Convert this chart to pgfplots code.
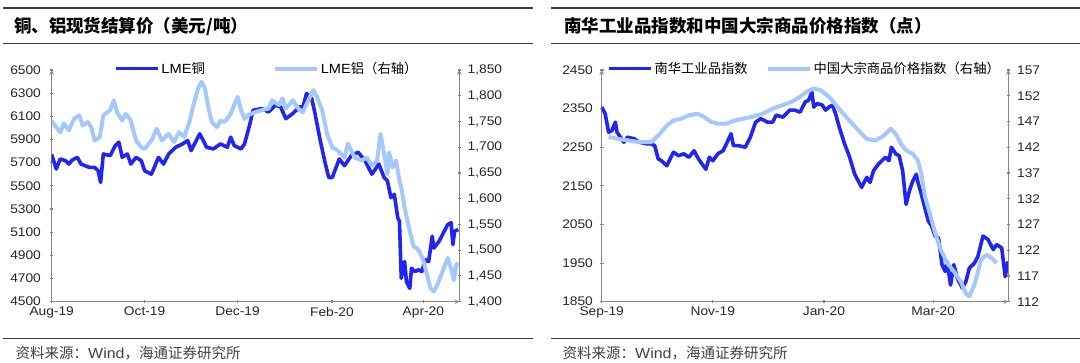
\documentclass[border=0pt]{standalone}
\usepackage{fontspec}
\setmainfont{Liberation Sans}[FakeStretch=1.1]
\newfontfamily\cjk{Noto Sans CJK SC}
\usepackage{pgfplots}
\pgfplotsset{compat=1.18}
\definecolor{dk}{RGB}{32,36,245}
\definecolor{lt}{RGB}{165,200,252}
\definecolor{axc}{RGB}{134,134,134}
\definecolor{rulec}{RGB}{60,60,60}
\pgfplotsset{
  chart/.style={scale only axis, height=231.7pt, anchor=south west,
    axis line style={axc, line width=1.1pt, -}, tick style={axc, line width=1.1pt},
    major tick length=3.6pt, tick align=outside,
    ticklabel style={font=\fontsize{12.5}{14}\selectfont, text=black!85},
    /pgf/number format/assume math mode=true, scaled ticks=false, enlargelimits=false,
    legend columns=2,
    legend image code/.code={\draw[##1] (0pt,0pt) -- (42pt,0pt);},
  },
  lg/.style={legend style={draw=none, fill=none, inner sep=0pt,
    font=\fontsize{13.3}{15}\selectfont, nodes={inner sep=2pt}}},
}
\begin{document}
\begin{tikzpicture}[x=1pt,y=1pt]
\useasboundingbox (0,0) rectangle (1080,363);
% rules
\draw[rulec, line width=1.8pt] (3,354.7) -- (533,354.7);
\draw[rulec, line width=1.5pt] (3,319.7) -- (533,319.7);
\draw[rulec, line width=1.5pt] (3,24.5) -- (533,24.5);
\draw[rulec, line width=1.8pt] (551,354.7) -- (1080,354.7);
\draw[rulec, line width=1.5pt] (551,319.7) -- (1080,319.7);
\draw[rulec, line width=1.5pt] (551,24.5) -- (1080,24.5);
% titles
\node[anchor=base west, inner sep=0pt, font=\fontsize{17.5}{20}\selectfont] at (13.8,330.5) {\cjk\bfseries 铜、铝现货结算价（美元/吨）};
\node[anchor=base west, inner sep=0pt, font=\fontsize{17.5}{20}\selectfont] at (564,330.5) {\cjk\bfseries 南华工业品指数和中国大宗商品价格指数（点）};
% sources
\node[anchor=base west, inner sep=0pt, font=\fontsize{14.5}{16}\selectfont, text=black!75] at (15.5,4) {{\cjk 资料来源：}Wind{\cjk ，海通证券研究所}};
\node[anchor=base west, inner sep=0pt, font=\fontsize{14.5}{16}\selectfont, text=black!75] at (562.5,4) {{\cjk 资料来源：}Wind{\cjk ，海通证券研究所}};

% ===== left chart =====
\begin{axis}[chart, at={(51.7pt,61.3pt)}, width=407.6pt,
  xmin=0, xmax=267.6, ymin=4500, ymax=6500,
  axis x line=bottom, axis y line=left,
  xtick={0,61,122,184,244}, xticklabels={Aug-19,Oct-19,Dec-19,Feb-20,Apr-20},
  ytick={4500,4700,...,6500}, yticklabel style={xshift=-5.5pt},
  /pgf/number format/1000 sep={}]
\addplot[dk, line width=3.6pt, line join=round] coordinates {
(0,5770)(3,5645)(5.6,5732)(9,5717)(11.3,5688)(13.5,5723)(16.9,5746)(19.2,5688)(24.8,5659)(28.2,5659)(30.5,5630)(32.1,5529)(33.9,5775)(38.4,5761)(41.8,5848)(44.1,5877)(46.3,5746)(49.7,5775)(51.9,5688)(55.4,5746)(58.8,5717)(61,5630)(65.5,5601)(70.1,5746)(73.4,5688)(76.8,5775)(81.4,5833)(85.9,5862)(89.3,5891)(91.5,5804)(97.2,5949)(101.7,5833)(106.2,5819)(110.8,5862)(115.3,5833)(117.5,5920)(119.8,5848)(124.3,5819)(126.6,5862)(129.9,6022)(132.2,6152)(137.9,6167)(142.4,6138)(146.9,6196)(150.3,6181)(153.7,6080)(158.2,6123)(162.8,6181)(165,6181)(167.3,6297)(170.7,6254)(172.9,6123)(176.3,5891)(179.7,5688)(181.9,5572)(184.2,5572)(188.8,5732)(192.2,5674)(196.7,5761)(201.2,5790)(205.7,5717)(210.2,5601)(214.8,5688)(218.2,5572)(220.4,5543)(222.7,5398)(224.9,5427)(227.2,5224)(228.3,5195)(229.5,4702)(231.7,4847)(232.9,4673)(235.1,4615)(236.2,4789)(238.5,4760)(240.8,4775)(243,4760)(245.3,4862)(247.5,4847)(249.8,5065)(250.9,4963)(254.3,5021)(257.7,5108)(260,5166)(262.2,5181)(263.4,4992)(264.5,5108)(267,5123)
};
\end{axis}
\begin{axis}[chart, lg, at={(51.7pt,61.3pt)}, width=407.6pt,
  xmin=0, xmax=267.6, ymin=1400, ymax=1850,
  axis x line=none, axis y line=right,
  ytick={1400,1450,...,1850}, yticklabel style={xshift=3pt},
  /pgf/number format/1000 sep={,},
  legend style={at={(axis description cs:0.152,1.006)}, anchor=west,
    /tikz/every even column/.append style={column sep=66pt}}]
\addlegendimage{dk, line width=3.6pt}
\addlegendentry{LME{\cjk 铜}}
\addplot[lt, line width=4pt, line join=round] coordinates {
(0,1751)(2.2,1742)(5.6,1729)(7.9,1746)(11.3,1733)(14.7,1755)(18.1,1762)(20.3,1742)(23.7,1749)(25.9,1739)(28.2,1713)(31.6,1720)(33.9,1762)(38.4,1772)(40.7,1791)(42.9,1768)(46.3,1752)(48.6,1765)(51.9,1752)(55.4,1713)(58.8,1700)(61,1697)(65.5,1713)(68.9,1736)(72.3,1713)(76.8,1726)(80.2,1710)(83.6,1729)(87,1720)(90.4,1749)(92.7,1778)(96.1,1814)(98.3,1827)(100.6,1814)(102.8,1778)(105.1,1749)(108.5,1739)(110.8,1752)(113,1749)(115.3,1755)(117.5,1765)(119.8,1782)(122.1,1798)(124.3,1772)(126.6,1755)(128.8,1762)(133.4,1768)(137.9,1772)(142.4,1775)(144.7,1791)(149.2,1782)(151.5,1795)(153.7,1775)(158.2,1791)(162.8,1772)(165,1768)(168.4,1791)(171.8,1811)(174.1,1798)(177.5,1772)(180.8,1726)(184.2,1700)(187.6,1694)(192.2,1680)(194.4,1707)(198.9,1680)(203.5,1674)(206.8,1680)(210.2,1664)(213.6,1674)(215.9,1726)(218.2,1687)(220.4,1648)(221.5,1690)(223.8,1661)(226.1,1674)(228.3,1635)(229.5,1622)(231.7,1583)(234,1550)(236.2,1524)(237.4,1508)(239.6,1504)(241.9,1495)(244.2,1478)(246.4,1452)(248.7,1426)(250.9,1420)(253.2,1433)(256.6,1459)(260,1485)(262.2,1465)(264,1442)(265.6,1472)(267,1475)
};
\addlegendentry{LME{\cjk 铝（右轴）}}
\end{axis}

% ===== right chart =====
\begin{axis}[chart, at={(601.7pt,61.3pt)}, width=406.6pt,
  xmin=0, xmax=223.2, ymin=1850, ymax=2450,
  axis x line=bottom, axis y line=left,
  xtick={0,61,122,182}, xticklabels={Sep-19,Nov-19,Jan-20,Mar-20},
  ytick={1850,1950,...,2450}, yticklabel style={xshift=-3.5pt},
  /pgf/number format/1000 sep={}]
\addplot[dk, line width=3.6pt, line join=round] coordinates {
(0,2354)(1.9,2337)(3.8,2289)(5.6,2293)(7.5,2315)(8.4,2289)(10.3,2276)(12.2,2263)(14.1,2276)(17.8,2272)(20.6,2263)(24.4,2259)(27.2,2259)(29.1,2254)(31,2220)(32.8,2215)(35.7,2202)(39.4,2237)(42.2,2228)(45,2233)(47.9,2224)(50.7,2241)(52.6,2224)(54.4,2211)(57.2,2193)(59.1,2224)(61,2215)(63.8,2233)(66.6,2241)(68.5,2259)(71,2285)(72.3,2254)(75.1,2254)(78.8,2250)(81.6,2276)(84.5,2315)(87.3,2324)(91,2315)(93.9,2315)(95.7,2333)(99.5,2328)(103.2,2346)(106,2346)(108.9,2341)(111.7,2367)(113.6,2372)(115.4,2393)(116.4,2354)(118.3,2363)(121.1,2359)(122.9,2346)(124.8,2354)(126.7,2359)(128.6,2333)(130.4,2302)(133.3,2259)(136.1,2224)(138.9,2180)(140.8,2163)(142.7,2146)(144.5,2163)(145.5,2172)(147.3,2159)(149.2,2189)(152,2207)(155.8,2224)(157.7,2215)(159,2250)(161.4,2233)(163.3,2228)(165.2,2189)(167.1,2102)(168.9,2137)(170.8,2163)(172.7,2180)(173.6,2159)(175.5,2128)(177.4,2093)(179.3,2059)(181.1,2046)(183,2020)(184.9,2015)(186.8,1946)(188.6,1928)(189.6,1954)(191.5,1893)(193.3,1946)(195.2,1911)(198,1885)(199.9,1902)(201.8,1937)(204.6,1950)(206.5,1967)(209.3,2020)(212.1,2011)(214.9,1985)(216.8,1998)(219.6,1989)(221.5,1915)(223,1954)
};
\end{axis}
\begin{axis}[chart, lg, at={(601.7pt,61.3pt)}, width=406.6pt,
  xmin=0, xmax=223.2, ymin=112, ymax=157,
  axis x line=none, axis y line=right,
  ytick={112,117,...,157}, yticklabel style={xshift=3.5pt},
  legend style={at={(axis description cs:0.0125,1.006)}, anchor=west,
    /tikz/every even column/.append style={column sep=16pt}}]
\addlegendimage{dk, line width=3.6pt}
\addlegendentry{{\cjk 南华工业品指数}}
\addplot[lt, line width=4pt, line join=round] coordinates {
(3.8,144.0)(9.4,143.6)(15,143.3)(20.6,143.0)(27.2,143.0)(31.9,144.6)(35.7,146.2)(39.4,147.2)(43.2,147.5)(47.9,148.2)(52.6,148.5)(56.3,147.9)(60.1,146.9)(63.8,146.6)(68.5,146.6)(73.2,147.2)(77,147.5)(82.6,147.9)(88.2,148.5)(93.9,149.5)(99.5,150.2)(104.2,150.8)(108.9,151.8)(112.6,152.8)(116.4,153.4)(120.1,153.1)(124.8,151.8)(129.5,149.8)(135.1,147.5)(140.8,145.3)(145.5,143.6)(150.2,143.3)(153.9,144.0)(156.7,144.9)(158.6,145.6)(161.4,144.6)(164.2,142.7)(167.1,141.4)(170.8,140.7)(173.6,139.4)(175.5,136.8)(177.4,132.5)(180.2,129.0)(183,125.4)(185.8,122.4)(189.6,119.5)(193.3,117.9)(197.1,115.9)(199.9,113.6)(201.8,113.0)(204.6,115.3)(208.3,120.2)(211.2,121.1)(214,120.5)(216.8,119.5)
};
\addlegendentry{{\cjk 中国大宗商品价格指数（右轴）}}
\end{axis}
\end{tikzpicture}
\end{document}
